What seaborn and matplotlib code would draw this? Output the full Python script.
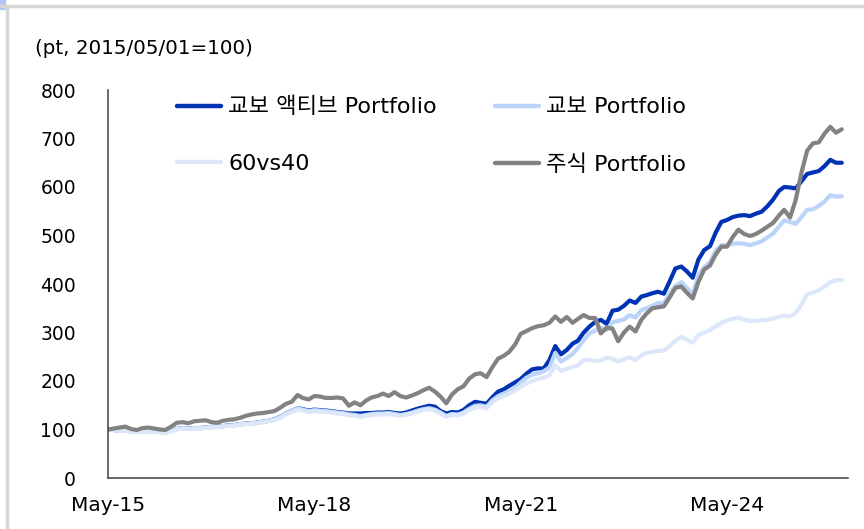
import pandas as pd
import matplotlib.pyplot as plt
from matplotlib.lines import Line2D
from matplotlib.patches import Rectangle
import seaborn as sns

sns.set_theme(style="white")
plt.rcParams["font.family"] = ["DejaVu Sans", "Noto Sans CJK KR"]
plt.rcParams["text.color"] = "black"

# 월말 지수 (2015/05/01 = 100), 2015-05 ~ 2026-01
DATES = pd.date_range("2015-05-01", periods=129, freq="MS")

ACTIVE = [
    100, 99, 98, 98, 96, 97, 96, 97, 96, 95,
    94, 97, 101, 103, 102, 103, 103, 104, 105, 106,
    107, 108, 109, 111, 112, 113, 114, 116, 118, 121,
    126, 133, 138, 144, 142, 139, 141, 140, 139, 138,
    136, 135, 133, 133, 133, 134, 134, 135, 135, 136,
    134, 133, 135, 139, 143, 146, 149, 147, 138, 133,
    136, 135, 140, 150, 157, 155, 153, 166, 178, 183,
    190, 197, 204, 215, 224, 226, 226, 243, 272, 255,
    264, 277, 283, 300, 312, 322, 326, 318, 345, 347,
    355, 366, 361, 374, 377, 381, 384, 380, 405, 432,
    436, 426, 413, 450, 470, 478, 505, 528, 532, 538,
    541, 542, 540, 545, 549, 560, 574, 592, 600, 599,
    597, 612, 627, 630, 633, 643, 656, 650, 650,
]

KYOBO = [
    100, 99, 98, 98, 96, 97, 96, 97, 96, 95,
    94, 97, 101, 103, 102, 103, 103, 104, 105, 106,
    107, 108, 109, 111, 112, 113, 114, 116, 118, 121,
    126, 133, 138, 144, 141, 138, 140, 139, 138, 137,
    135, 134, 131, 130, 128, 130, 132, 133, 133, 134,
    132, 130, 132, 135, 139, 142, 144, 141, 135, 128,
    132, 131, 135, 143, 149, 150, 147, 160, 169, 174,
    179, 186, 197, 207, 213, 216, 220, 228, 258, 240,
    247, 256, 268, 284, 298, 304, 310, 305, 321, 324,
    327, 336, 331, 346, 350, 355, 361, 360, 380, 396,
    404, 392, 379, 418, 435, 445, 468, 480, 480, 483,
    484, 483, 480, 484, 488, 496, 504, 518, 531, 528,
    524, 538, 553, 554, 561, 570, 583, 580, 581,
]

MIX_60_40 = [
    100, 99, 97, 97, 95, 96, 95, 96, 95, 94,
    93, 96, 100, 102, 101, 102, 102, 103, 104, 105,
    106, 107, 108, 110, 111, 112, 113, 115, 117, 119,
    124, 131, 136, 141, 139, 136, 138, 137, 136, 135,
    133, 132, 129, 128, 126, 128, 130, 131, 131, 132,
    130, 128, 130, 133, 137, 140, 142, 139, 133, 126,
    130, 129, 133, 140, 146, 147, 144, 156, 164, 169,
    174, 180, 188, 195, 200, 204, 207, 212, 233, 221,
    225, 229, 232, 243, 244, 241, 243, 248, 246, 240,
    245, 249, 243, 253, 258, 260, 262, 263, 272, 283,
    291, 285, 279, 295, 300, 305, 312, 320, 325, 328,
    331, 326, 324, 324, 326, 326, 329, 332, 335, 333,
    340, 358, 379, 382, 387, 395, 404, 408, 408,
]

STOCK = [
    100, 102, 104, 106, 101, 99, 103, 104, 102, 100,
    99, 106, 114, 115, 113, 117, 118, 119, 115, 114,
    118, 120, 121, 124, 128, 131, 133, 134, 136, 138,
    145, 153, 157, 171, 165, 162, 169, 168, 165, 165,
    166, 164, 149, 156, 150, 160, 166, 169, 174, 169,
    177, 169, 166, 170, 175, 181, 186, 178, 168, 154,
    172, 183, 189, 205, 214, 216, 208, 228, 246, 252,
    260, 275, 297, 303, 309, 313, 315, 320, 333, 322,
    332, 320, 328, 336, 330, 330, 298, 310, 308, 282,
    300, 312, 302, 326, 339, 350, 352, 354, 372, 392,
    395, 382, 370, 404, 430, 438, 460, 477, 477, 497,
    512, 503, 499, 503, 510, 518, 526, 541, 553, 537,
    573, 630, 675, 690, 692, 710, 724, 712, 719,
]

SERIES = ["교보 액티브 Portfolio", "교보 Portfolio", "60vs40", "주식 Portfolio"]
COLORS = ["#0033B4", "#BCD4FA", "#DCE7FA", "#828282"]

XTICKS = pd.to_datetime(["2015-05-01", "2018-05-01", "2021-05-01", "2024-05-01"])
XTICK_LABELS = ["May-15", "May-18", "May-21", "May-24"]

df = pd.DataFrame({
    "date": list(DATES) * 4,
    "value": ACTIVE + KYOBO + MIX_60_40 + STOCK,
    "series": [s for s in SERIES for _ in DATES],
})

fig = plt.figure(figsize=(8.64, 5.29), dpi=100)
ax = fig.add_axes([108 / 864, 1 - 478 / 529, 740 / 864, 388 / 529])

sns.lineplot(
    data=df, x="date", y="value", hue="series", hue_order=SERIES,
    palette=dict(zip(SERIES, COLORS)), linewidth=3.0, legend=False, ax=ax,
)

ax.set_ylim(0, 800)
ax.set_yticks(range(0, 801, 100))
ax.set_xlim(pd.Timestamp("2015-05-01"), pd.Timestamp("2026-02-03"))
ax.set_xticks(XTICKS)
ax.set_xticklabels(XTICK_LABELS)
ax.set_xlabel("")
ax.set_ylabel("")

for side in ["top", "right"]:
    ax.spines[side].set_visible(False)
for side in ["left", "bottom"]:
    ax.spines[side].set_color("#404040")
    ax.spines[side].set_linewidth(1.1)

ax.tick_params(axis="both", direction="in", length=4, width=1.0,
               color="#404040", labelcolor="black")
ax.tick_params(axis="y", pad=23, labelsize=13.5)
ax.tick_params(axis="x", pad=13, labelsize=14.5)

# 범례: 열 우선 배치이므로 순서를 바꿔서 넣는다
handles = [Line2D([], [], color=c, linewidth=3.2) for c in COLORS]
order = [0, 2, 1, 3]
ax.legend(
    [handles[i] for i in order], [SERIES[i] for i in order],
    ncol=2, loc="upper left", bbox_to_anchor=(177 / 864, 1 - 97 / 529),
    bbox_transform=fig.transFigure, frameon=False, fontsize=16,
    handlelength=2.0, handletextpad=0.3, labelspacing=1.65,
    columnspacing=2.6, borderpad=0, borderaxespad=0, labelcolor="black",
)

fig.text(35 / 864, 1 - 48 / 529, "(pt, 2015/05/01=100)", fontsize=14.3,
         va="center", ha="left", color="black")

# 바깥 테두리
fig.add_artist(Line2D([0, 1], [1 - 6 / 529, 1 - 6 / 529],
                      transform=fig.transFigure, color="#D6D6D6", linewidth=2.5))
fig.add_artist(Line2D([7 / 864, 7 / 864], [0, 1 - 6 / 529],
                      transform=fig.transFigure, color="#D6D6D6", linewidth=2.5))
fig.add_artist(Rectangle((0, 1 - 9 / 529), 5 / 864, 9 / 529,
                         transform=fig.transFigure, color="#AFC6F2"))

fig.savefig("out.png", dpi=100)
